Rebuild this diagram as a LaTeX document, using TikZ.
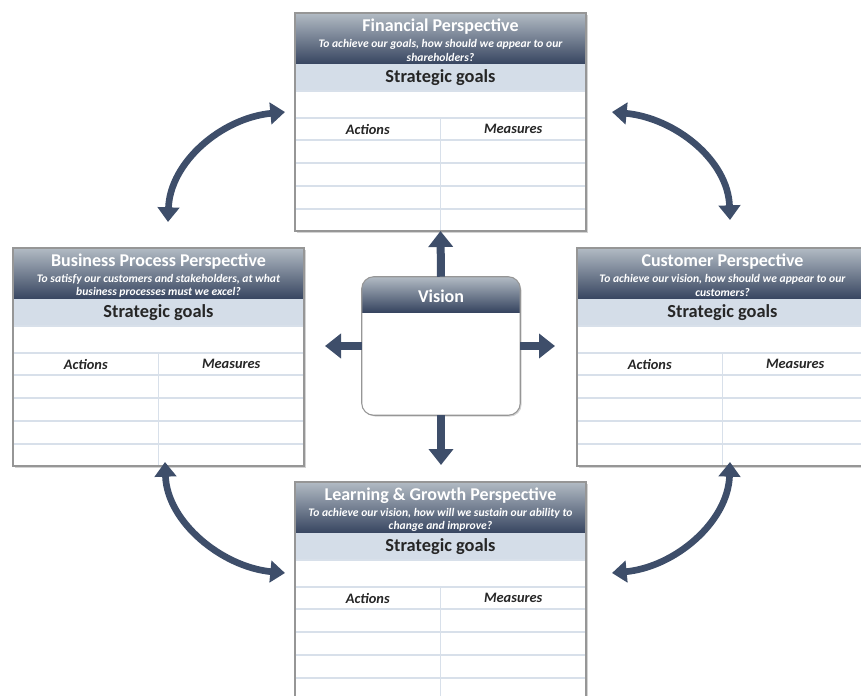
\documentclass[tikz,border=0pt]{standalone}
\usepackage{fontspec}
\setmainfont{Carlito}
\usetikzlibrary{arrows.meta,shadows}

\definecolor{navy}{RGB}{62,78,106}
\definecolor{headtop}{RGB}{178,187,196}
\definecolor{headbot}{RGB}{55,69,96}
\definecolor{bandc}{RGB}{212,221,232}
\definecolor{gridc}{RGB}{216,224,234}
\definecolor{framec}{RGB}{150,150,150}

\begin{document}
\begin{tikzpicture}[x=0.75pt,y=-0.75pt,
    panel/.style={fill=white,inner sep=0pt,outer sep=0pt,
        minimum width=218.25pt,minimum height=163.5pt,
        drop shadow={shadow xshift=1.2pt,shadow yshift=-1.2pt,opacity=0.35}},
    header/.style={top color=headtop,bottom color=headbot},
    gridline/.style={draw=gridc,line width=0.8pt},
    titletext/.style={text=white,font=\fontsize{13.5}{16}\selectfont\bfseries},
    asktext/.style={text=white,align=center,inner sep=0pt,
        font=\fontsize{8.7}{9.8}\selectfont\bfseries\itshape},
    goaltext/.style={text=black!85,font=\fontsize{13.8}{16}\selectfont\bfseries},
    coltext/.style={text=black!85,font=\fontsize{10.8}{13}\selectfont\bfseries\itshape},
    bigarrow/.style={draw=navy,line width=6pt,-{Triangle[length=12pt,width=18pt]}},
    bendarrow/.style={draw=navy,line width=5pt,
        {Triangle[length=11pt,width=16pt]}-{Triangle[length=11pt,width=16pt]}}]
    \useasboundingbox (0,0) rectangle (861,696);

    % draw the four perspectives
    \foreach \nm/\px/\py/\ttl/\qa/\qb in {
        fin/295/13/Financial Perspective/{To achieve our goals, how should we appear to our}/shareholders?,
        bus/13/248/Business Process Perspective/{To satisfy our customers and stakeholders, at what}/business processes must we excel?,
        cus/577/248/Customer Perspective/{To achieve our vision, how should we appear to our}/customers?,
        lea/295/482/Learning \& Growth Perspective/{To achieve our vision, how will we sustain our ability to}/change and improve?}
    {
        \begin{scope}[shift={(\px,\py)}]
            \node[panel,anchor=north west] (\nm) at (0,0) {};
            \shade[header] (0,0) rectangle (291,51);
            \fill[bandc] (0,51) rectangle (291,78);
            % draw the table
            \foreach \r in {78,105,127,150,173,196}
                \draw[gridline] (0,\r) -- (291,\r);
            \draw[gridline] (145.5,105) -- (145.5,218);
            \draw[framec,line width=0.8pt] (\nm.north west) rectangle (\nm.south east);
            % draw the texts
            \node[titletext] (\nm-title) at (145.5,14) {\ttl};
            \node[asktext] (\nm-ask) at (145.5,37.5) {\qa\\\qb};
            \node[goaltext] (\nm-goal) at (145.5,65) {Strategic goals};
            \node[coltext] (\nm-act) at (72.75,116) {Actions};
            \node[coltext] (\nm-mea) at (218.25,116) {Measures};
        \end{scope}
    }

    % draw the vision box
    \node[fill=white,rounded corners=9pt,minimum width=118.5pt,minimum height=103.5pt,
        drop shadow={shadow xshift=1.2pt,shadow yshift=-1.2pt,opacity=0.35}] (vis) at (441,346) {};
    \begin{scope}
        \clip[rounded corners=9pt] (vis.north west) rectangle (vis.south east);
        \shade[header] (vis.north west) rectangle (520,312);
    \end{scope}
    \draw[framec,line width=0.8pt,rounded corners=9pt] (vis.north west) rectangle (vis.south east);
    \node[titletext] (vis-title) at (441,296) {Vision};

    % draw the straight arrows
    \coordinate (lefttip) at (325,346);
    \coordinate (righttip) at (555,346);
    \coordinate (downtip) at (441,465);
    \draw[bigarrow] (vis.north) -- (fin.south);
    \draw[bigarrow] (vis.west) -- (lefttip);
    \draw[bigarrow] (vis.east) -- (righttip);
    \draw[bigarrow] (vis.south) -- (downtip);

    % draw the bent arrows
    \coordinate (tl-a) at (168,222);  \coordinate (tl-b) at (285,112);
    \coordinate (tr-a) at (612,112);  \coordinate (tr-b) at (730,220);
    \coordinate (bl-a) at (165,462);  \coordinate (bl-b) at (285,573);
    \coordinate (br-a) at (730,462);  \coordinate (br-b) at (612,573);
    \draw[bendarrow] (tl-a) .. controls (170,162) and (222,118) .. (tl-b);
    \draw[bendarrow] (tr-a) .. controls (675,118) and (728,160) .. (tr-b);
    \draw[bendarrow] (bl-a) .. controls (167,522) and (222,567) .. (bl-b);
    \draw[bendarrow] (br-a) .. controls (728,522) and (675,567) .. (br-b);
\end{tikzpicture}
\end{document}
